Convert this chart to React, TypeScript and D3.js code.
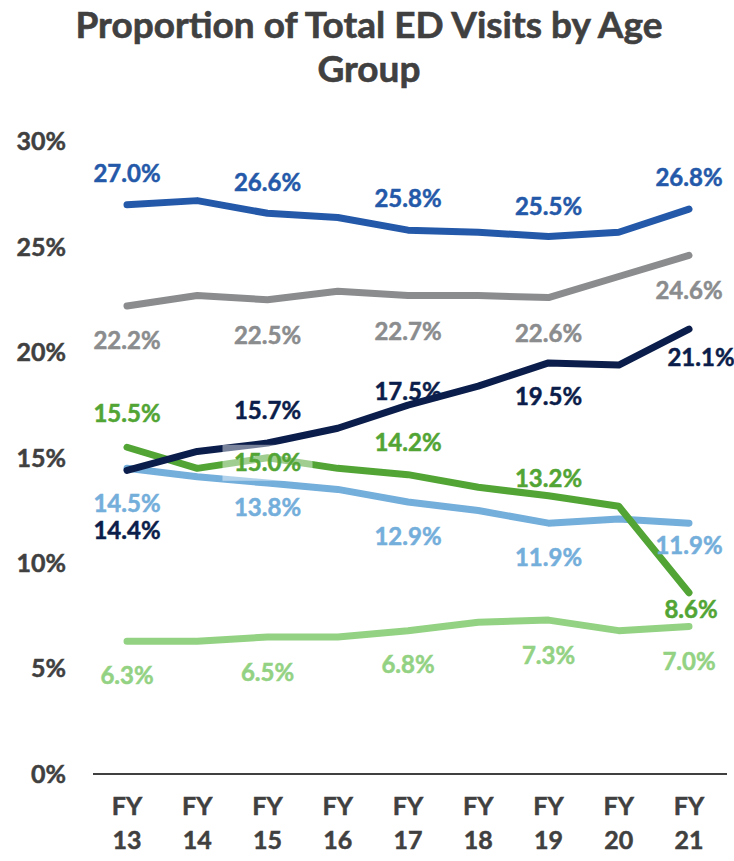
import React, { useEffect, useRef } from 'react';
import * as d3 from 'd3';

const categories = ['FY 13', 'FY 14', 'FY 15', 'FY 16', 'FY 17', 'FY 18', 'FY 19', 'FY 20', 'FY 21'];
const yTicks = [0, 5, 10, 15, 20, 25, 30];

const seriesBlue = [27.0, 27.2, 26.6, 26.4, 25.8, 25.7, 25.5, 25.7, 26.8];
const seriesGray = [22.2, 22.7, 22.5, 22.9, 22.7, 22.7, 22.6, 23.6, 24.6];
const seriesNavy = [14.4, 15.3, 15.7, 16.4, 17.5, 18.4, 19.5, 19.4, 21.1];
const seriesGreen = [15.5, 14.5, 15.0, 14.5, 14.2, 13.6, 13.2, 12.7, 8.6];
const seriesLightBlue = [14.5, 14.1, 13.8, 13.5, 12.9, 12.5, 11.9, 12.1, 11.9];
const seriesLightGreen = [6.3, 6.3, 6.5, 6.5, 6.8, 7.2, 7.3, 6.8, 7.0];

// which points carry a data label
const labelIndex = [0, 2, 4, 6, 8];

const FONT = 'Lato, "Open Sans", sans-serif';
const TEXT_GREY = '#404040';

// drawing order = bottom to top; dy/dx are label offsets (px) for labelIndex points
const series = [
  { name: 'lightGreen', values: seriesLightGreen, color: '#93d283', dy: [34, 36, 34, 35, 35], dx: [0, 0, 0, 0, 0] },
  { name: 'lightBlue', values: seriesLightBlue, color: '#74aedb', dy: [35, 25, 35, 34, 22], dx: [0, 0, 0, 0, 0] },
  { name: 'green', values: seriesGreen, color: '#52a535', dy: [-34, 5, -32, -17, 17], dx: [0, 0, 0, 0, 2] },
  { name: 'gray', values: seriesGray, color: '#8a8c8e', dy: [35, 36, 36, 36, 35], dx: [0, 0, 0, 0, 0] },
  { name: 'blue', values: seriesBlue, color: '#2459a9', dy: [-31, -31, -32, -30, -31], dx: [0, 0, 0, 0, 0] },
  { name: 'navy', values: seriesNavy, color: '#0b1d4a', dy: [60, -32, -14, 34, 28], dx: [0, 0, 0, 0, 12] },
];

const App = () => {
  const ref = useRef<SVGSVGElement>(null);

  useEffect(() => {
    const svg = d3.select(ref.current);
    svg.selectAll('*').remove();

    const x = d3.scalePoint<string>().domain(categories).range([127, 689]);
    const y = d3.scaleLinear().domain([0, 30]).range([774, 141.6]);

    // title
    const title = svg.append('text')
      .attr('text-anchor', 'middle')
      .attr('font-family', FONT)
      .attr('font-weight', 'bold')
      .attr('font-size', 37)
      .attr('fill', TEXT_GREY)
      .attr('stroke', TEXT_GREY)
      .attr('stroke-width', 0.6);
    title.append('tspan').attr('x', 369).attr('y', 38).text('Proportion of Total ED Visits by Age');
    title.append('tspan').attr('x', 369).attr('y', 82).text('Group');

    // y axis labels
    svg.append('g')
      .selectAll('text')
      .data(yTicks)
      .enter()
      .append('text')
      .attr('x', 66)
      .attr('y', d => y(d))
      .attr('dy', '0.35em')
      .attr('text-anchor', 'end')
      .attr('font-family', FONT)
      .attr('font-weight', 'bold')
      .attr('font-size', 25)
      .attr('fill', TEXT_GREY)
      .attr('stroke', TEXT_GREY)
      .attr('stroke-width', 0.5)
      .text(d => `${d}%`);

    // x baseline
    svg.append('line')
      .attr('x1', 93)
      .attr('x2', 727)
      .attr('y1', y(0))
      .attr('y2', y(0))
      .attr('stroke', TEXT_GREY)
      .attr('stroke-width', 2);

    // x labels (two lines)
    const xl = svg.append('g')
      .selectAll('text')
      .data(categories)
      .enter()
      .append('text')
      .attr('text-anchor', 'middle')
      .attr('font-family', FONT)
      .attr('font-weight', 'bold')
      .attr('font-size', 25)
      .attr('fill', TEXT_GREY)
      .attr('stroke', TEXT_GREY)
      .attr('stroke-width', 0.5);
    xl.append('tspan').attr('x', d => x(d)!).attr('y', 815).text(d => d.split(' ')[0]);
    xl.append('tspan').attr('x', d => x(d)!).attr('y', 849).text(d => d.split(' ')[1]);

    // lines
    const line = d3.line<number>()
      .x((d, i) => x(categories[i])!)
      .y(d => y(d));

    series.forEach(s => {
      svg.append('path')
        .datum(s.values)
        .attr('d', line)
        .attr('fill', 'none')
        .attr('stroke', s.color)
        .attr('stroke-width', 7)
        .attr('stroke-linecap', 'round')
        .attr('stroke-linejoin', 'round');
    });

    // semi-transparent box behind the 15.0% label
    const gi = labelIndex[1];
    svg.append('rect')
      .attr('x', x(categories[gi])! - 45)
      .attr('y', y(seriesGreen[gi]) + 5 - 18)
      .attr('width', 90)
      .attr('height', 36)
      .attr('fill', '#fff')
      .attr('opacity', 0.45);

    // data labels
    series.forEach(s => {
      svg.append('g')
        .selectAll('text')
        .data(labelIndex)
        .enter()
        .append('text')
        .attr('x', (d, k) => x(categories[d])! + s.dx[k])
        .attr('y', (d, k) => y(s.values[d]) + s.dy[k])
        .attr('dy', '0.35em')
        .attr('text-anchor', 'middle')
        .attr('font-family', FONT)
        .attr('font-weight', 'bold')
        .attr('font-size', 24)
        .attr('fill', s.color)
        .attr('stroke', s.color)
        .attr('stroke-width', 0.5)
        .text(d => `${s.values[d].toFixed(1)}%`);
    });
  }, []);

  return (
    <svg
      ref={ref}
      width={734}
      height={861}
      style={{ position: 'absolute', left: 0, top: 0, background: '#fff' }}
    />
  );
};

export default App;
